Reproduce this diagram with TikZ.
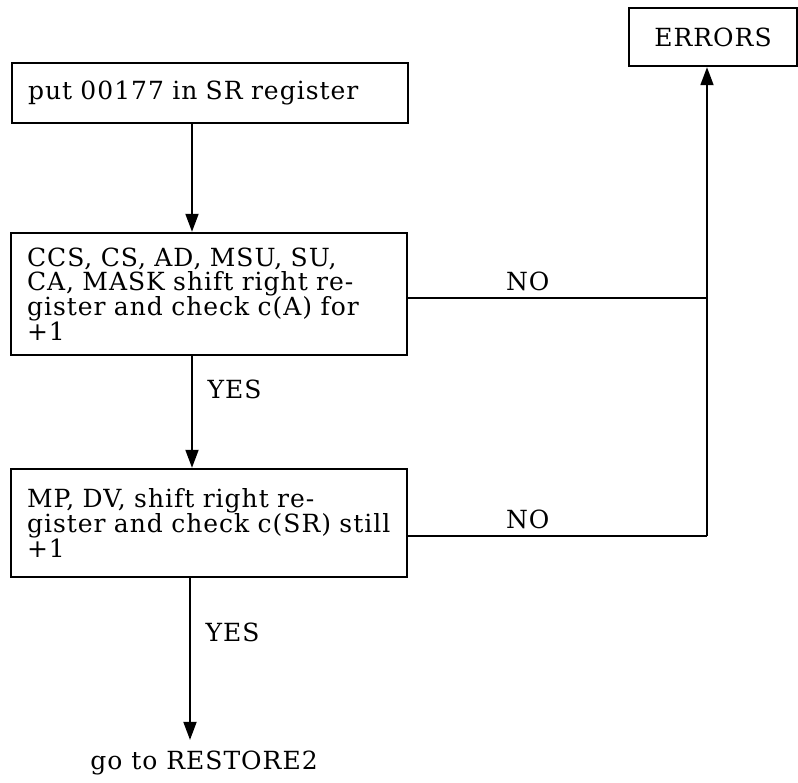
\documentclass[tikz,border=0pt]{standalone}
\usepackage{fontspec}
\setmainfont{DejaVu Serif}[LetterSpace=4]
\usetikzlibrary{arrows.meta}
\begin{document}
\begin{tikzpicture}[x=0.5pt,y=-0.5pt,font=\fontsize{12.5}{12.3}\selectfont]

        \useasboundingbox (0,0) rectangle (798,782);

        \begin{scope}[every node/.style={rectangle,draw,line width=1.2pt,inner xsep=8pt,text width=182pt,align=left}]
          \node[minimum height=30pt] (1) at (210,93)  {put 00177 in SR register};
          \node[minimum height=61pt] (2) at (209,294) {CCS, CS, AD, MSU, SU,\\CA, MASK shift right re-\\gister and check c(A) for\\+1};
          \node[minimum height=54pt] (3) at (209,523) {MP, DV, shift right re-\\gister and check c(SR) still\\+1};
        \end{scope}

        \node[rectangle,draw,line width=1.2pt,minimum width=84pt,minimum height=29pt] (4) at (713,37) {ERRORS};
        \node (5) at (204,763) {go to RESTORE2};

        \coordinate (a)  at (192,0);
        \coordinate (b)  at (190,0);
        \coordinate (c1) at (707,298);
        \coordinate (c2) at (707,536);

        \begin{scope}[>={Triangle[length=9pt,width=6.5pt]}]

          \begin{scope}[every edge/.style={draw,line width=0.9pt}]
            \path (1.south -| a) edge[->] (2.north -| a);
            \path (2.south -| a) edge[->] node[right=4pt,pos=0.3] {YES} (3.north -| a);
            \path (3.south -| b) edge[->,shorten >=2pt] node[right=4pt,pos=0.33] {YES} (5.north -| b);
            \path (2.east |- c1) edge node[above,pos=0.4] {NO} (c1);
            \path (3.east |- c2) edge node[above,pos=0.4] {NO} (c2);
            \path (c2) edge[->] (4.south -| c2);
          \end{scope}
        \end{scope}

      \end{tikzpicture}
\end{document}
